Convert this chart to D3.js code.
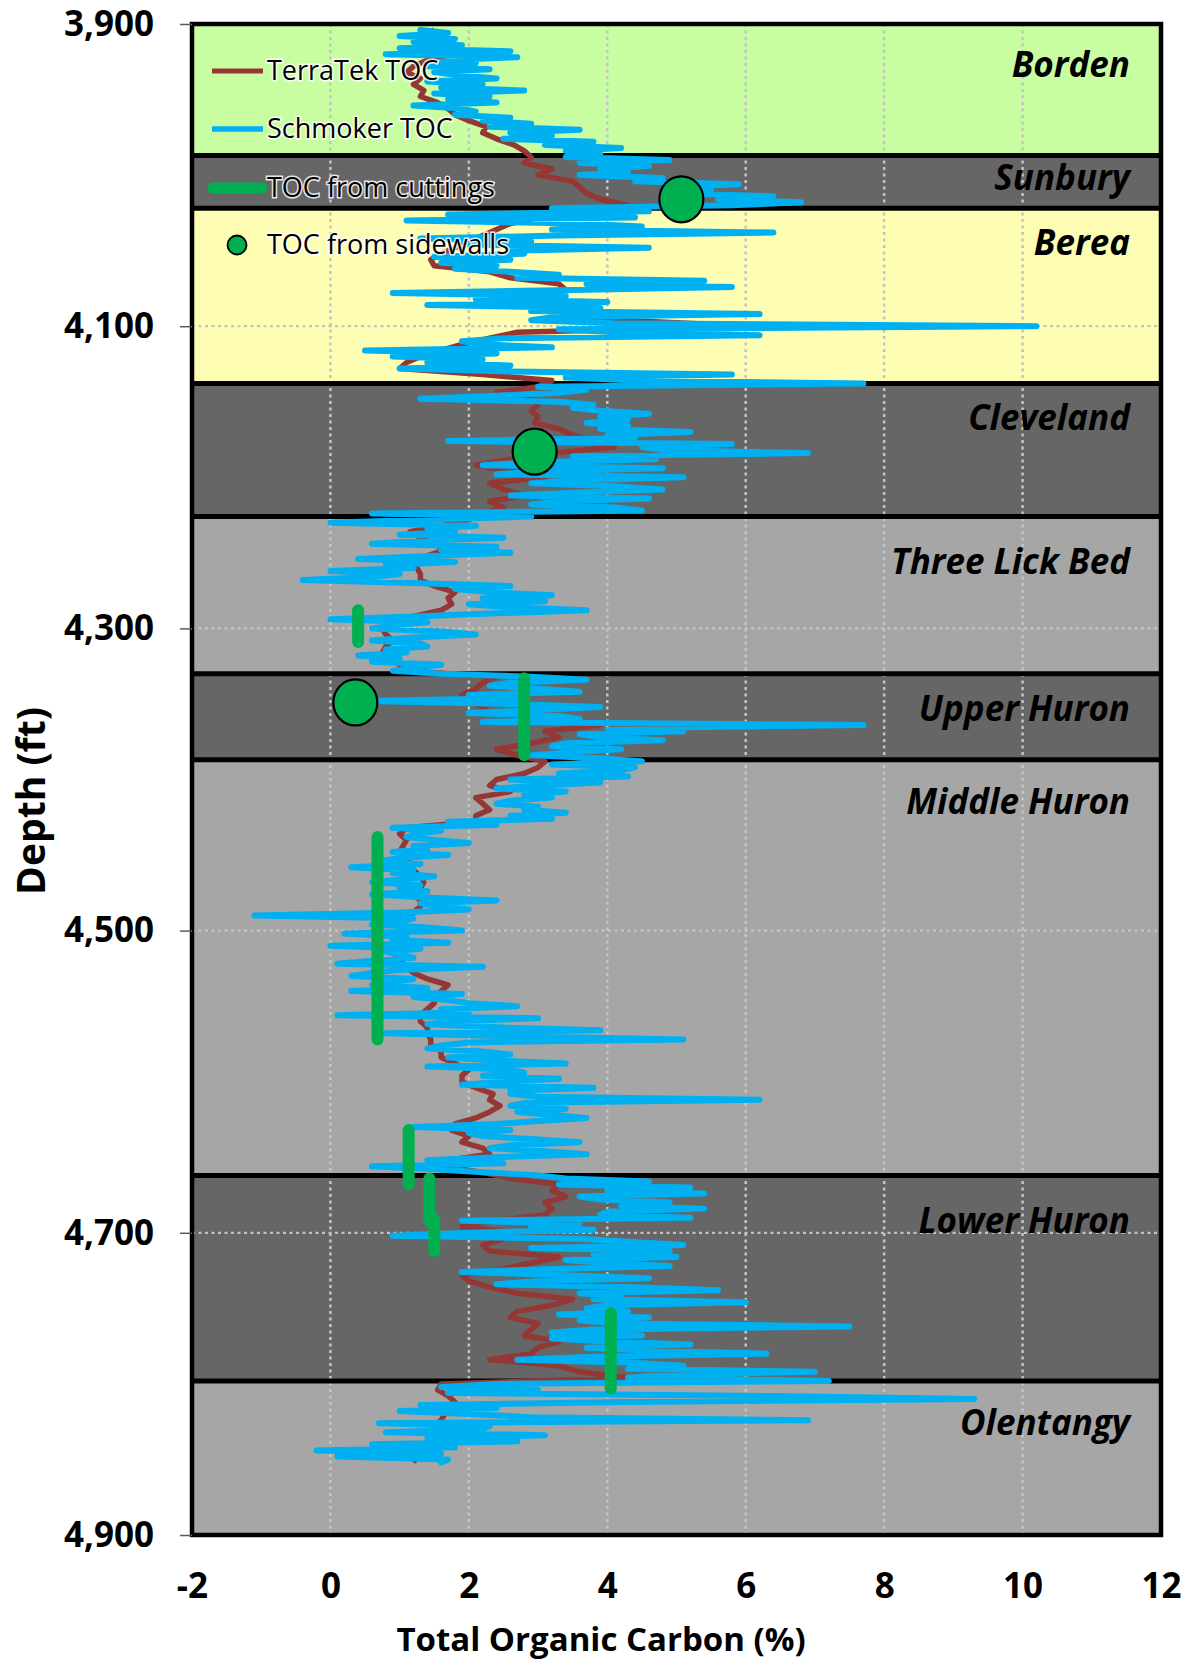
<!DOCTYPE html>
<html>
<head>
<meta charset="utf-8">
<script src="https://cdn.jsdelivr.net/npm/d3@7"></script>
<style>
  body { margin: 0; background: #fff; }
  svg { display: block; }
  text { font-family: "Open Sans", "Liberation Sans", sans-serif; }
</style>
</head>
<body>
<svg id="chart" width="1192" height="1661"></svg>
<script>
// ---- Formations (depth intervals, ft) ----
const formationNames = ["Borden", "Sunbury", "Berea", "Cleveland", "Three Lick Bed",
                        "Upper Huron", "Middle Huron", "Lower Huron", "Olentangy"];
const formationTops  = [3900, 3987, 4022, 4138, 4226, 4330, 4387, 4662, 4798];
const formationBases = [3987, 4022, 4138, 4226, 4330, 4387, 4662, 4798, 4900];
const labelDepths    = [3935, 4010, 4053, 4169, 4264, 4361, 4423, 4700, 4834];

// ---- Schmoker TOC log, 2 ft sampling, one run per formation ----
const schmokerStep = 2;
const schmokerStarts = [3904, 3988, 4022, 4140, 4228, 4332, 4388, 4664, 4800];
const schmokerBorden = [1.3, 1.7, 1.0, 1.8, 1.2, 1.9, 1.0, 2.6, 0.8, 2.7,
  1.6, 2.1, 1.4, 2.3, 1.5, 1.9, 2.4, 1.4, 2.2, 1.6,
  2.8, 1.5, 2.3, 1.7, 2.4, 1.2, 1.9, 2.1, 1.8, 2.6,
  2.2, 2.9, 2.3, 3.6, 2.6, 3.2, 2.5, 3.8, 3.1, 4.2,
  3.4, 3.9];
const schmokerSunbury = [3.4, 4.9, 3.6, 4.6, 3.9, 4.3, 3.6, 4.8, 4.4, 5.9,
  4.9, 5.5, 5.0, 6.4, 5.6, 6.8, 5.8];
const schmokerBerea = [3.2, 4.6, 1.7, 4.4, 1.1, 3.6, 4.5, 3.2, 6.4, 3.3,
  1.3, 2.9, 2.0, 4.6, 2.6, 2.8, 1.5, 2.6, 1.6, 2.4,
  1.8, 2.6, 3.3, 2.7, 5.4, 3.7, 5.8, 3.5, 0.9, 3.4,
  2.1, 4.0, 1.4, 3.9, 2.9, 6.2, 3.2, 2.9, 4.1, 10.2,
  3.3, 4.1, 6.2, 2.5, 1.9, 2.2, 3.2, 0.5, 2.4, 0.9,
  2.2, 1.4, 2.6, 1.0, 2.6, 5.8, 3.4, 4.4, 7.7];
const schmokerCleveland = [3.0, 3.7, 3.3, 2.4, 1.3, 3.3, 3.8, 3.5, 3.9, 4.6,
  3.9, 4.3, 3.7, 4.3, 3.9, 5.2, 4.0, 4.4, 1.7, 5.8,
  4.5, 4.8, 6.9, 3.5, 4.7, 2.9, 2.2, 4.8, 3.0, 2.4,
  5.1, 3.6, 2.9, 4.1, 4.8, 3.6, 2.6, 4.6, 3.3, 2.9,
  4.1, 4.5, 0.6, 2.9];
const schmokerThreeLick = [1.4, 0.0, 2.1, 1.4, 1.8, 1.0, 2.5, 1.3, 0.6, 2.4,
  1.6, 2.6, 1.5, 0.4, 1.8, 0.8, 1.2, 0.0, 1.0, 0.6,
  -0.4, 1.2, 2.6, 1.8, 2.3, 3.2, 2.2, 3.1, 2.0, 2.6,
  3.7, 2.4, 1.3, 0.0, 1.4, 0.9, 0.6, 1.6, 2.1, 1.2,
  0.6, 1.3, 1.4, 0.8, 1.1, 0.4, 1.0, 0.6, 1.6, 1.2,
  0.9, 1.6];
const schmokerUpperHuron = [2.9, 3.7, 2.6, 2.3, 3.0, 3.6, 2.0, 2.8, 0.5, 2.6,
  3.9, 3.0, 2.0, 3.3, 3.6, 2.2, 7.7, 4.0, 5.1, 3.6,
  3.9, 4.8, 3.4, 3.2, 4.2, 3.5, 2.9, 3.9];
const schmokerMiddleHuron = [4.5, 3.2, 4.4, 4.2, 3.3, 4.3, 2.6, 3.9, 3.0, 2.4,
  3.4, 2.8, 3.2, 2.6, 2.4, 3.0, 2.8, 3.4, 2.6, 3.2,
  1.7, 2.4, 0.9, 1.6, 1.2, 1.1, 1.5, 2.0, 1.2, 1.4,
  0.9, 1.7, 1.0, 0.7, 1.3, 0.3, 1.2, 0.9, 1.5, 1.1,
  0.6, 1.3, 1.0, 1.4, 0.6, 1.3, 2.4, 1.3, 1.6, 2.0,
  1.0, -1.1, 1.2, 1.0, 0.6, 1.4, 1.9, 0.2, 1.1, 0.9,
  1.7, 0.0, 1.3, 0.8, 1.0, 1.2, 0.6, 0.1, 2.2, 1.0,
  0.6, 0.3, 1.2, 0.9, 0.6, 1.4, 0.3, 1.9, 1.2, 1.7,
  2.0, 2.7, 1.6, 2.0, 0.1, 3.0, 1.8, 1.4, 2.4, 3.9,
  0.8, 2.6, 5.1, 2.0, 1.6, 1.4, 2.2, 2.6, 1.7, 2.4,
  3.4, 1.4, 2.6, 2.8, 2.2, 3.3, 2.5, 1.9, 3.8, 2.6,
  2.6, 3.0, 6.2, 2.8, 2.6, 3.4, 2.7, 3.2, 3.7, 3.0,
  2.4, 1.2, 2.6, 2.0, 2.2, 2.9, 3.6, 2.6, 2.3, 3.1,
  3.7, 2.4, 1.4, 2.5, 0.6, 1.5, 2.2, 3.0];
const schmokerLowerHuron = [3.4, 4.6, 3.3, 5.2, 4.0, 5.4, 3.6, 3.9, 4.9, 4.2,
  5.4, 4.0, 3.9, 5.2, 1.9, 3.6, 2.9, 3.8, 2.0, 0.9,
  3.6, 4.3, 5.1, 2.9, 4.9, 3.8, 5.0, 3.4, 4.0, 4.9,
  3.2, 1.9, 3.3, 4.6, 3.0, 2.4, 4.4, 5.6, 3.6, 4.2,
  3.8, 6.0, 4.0, 3.7, 4.3, 3.3, 4.6, 3.6, 4.2, 7.5,
  3.8, 3.2, 4.5, 3.2, 4.0, 5.2, 3.7, 4.6, 6.3, 3.8,
  2.7, 4.4, 5.1, 4.3, 7.0, 4.8, 4.3, 7.2];
const schmokerOlentangy = [2.4, 1.6, 3.0, 1.7, 6.4, 9.3, 4.3, 1.3, 2.4, 1.0,
  2.0, 2.9, 6.9, 0.7, 2.3, 2.2, 0.8, 3.1, 1.4, 2.7,
  0.6, 1.8, -0.2, 1.6, 0.1, 1.7, 1.6];
const schmokerRuns = [schmokerBorden, schmokerSunbury, schmokerBerea, schmokerCleveland,
  schmokerThreeLick, schmokerUpperHuron, schmokerMiddleHuron, schmokerLowerHuron, schmokerOlentangy];

// ---- TerraTek TOC log, 4 ft sampling, one run per formation ----
const terratekStep = 4;
const terratekStarts = [3904, 3988, 4024, 4140, 4228, 4332, 4388, 4664, 4800];
const terratekBorden = [1.5, 1.3, 1.4, 1.5, 1.75, 1.4, 1.2, 1.1, 1.3, 1.2,
  1.35, 1.3, 1.55, 1.7, 1.8, 2.0, 2.25, 2.2, 2.4, 2.65, 2.8];
const terratekSunbury = [2.9, 2.8, 3.2, 3.0, 3.5, 3.6, 3.7, 3.9, 4.3];
const terratekBerea = [3.6, 3.0, 2.6, 2.4, 2.2, 2.0, 1.8, 1.6, 1.45, 1.5,
  2.3, 2.6, 3.3, 3.4, 2.9, 3.0, 3.2, 3.4, 4.2, 6.1,
  2.7, 2.3, 1.9, 1.6, 1.3, 1.1, 1.0, 2.2, 3.2];
const terratekCleveland = [3.0, 2.4, 2.9, 3.0, 2.9, 3.0, 2.95, 3.3, 3.5, 3.8,
  4.1, 3.2, 2.6, 2.1, 2.6, 3.1, 2.3, 2.5, 2.8, 2.3, 2.5, 2.2];
const terratekThreeLick = [2.0, 1.6, 1.15, 1.3, 1.5, 1.65, 1.4, 1.2, 1.25, 1.3,
  1.3, 1.5, 1.8, 1.7, 1.75, 1.6, 1.2, 0.9, 0.75, 0.8,
  0.9, 0.8, 0.75, 0.85, 1.0, 1.05];
const terratekUpperHuron = [2.4, 2.2, 2.1, 1.9, 2.0, 2.2, 2.3, 2.9, 3.9, 3.1,
  3.3, 2.9, 2.4, 2.7];
const terratekMiddleHuron = [3.1, 3.0, 2.8, 2.4, 2.3, 2.6, 2.1, 2.2, 2.3, 2.1,
  2.1, 1.1, 1.0, 1.1, 1.05, 1.0, 1.1, 1.15, 1.2, 1.3,
  1.35, 1.3, 1.2, 1.3, 1.3, 1.2, 1.1, 1.0, 1.05, 1.0,
  0.95, 0.9, 0.95, 1.0, 1.1, 1.2, 1.4, 1.7, 1.6, 1.5,
  1.5, 1.4, 1.3, 1.3, 1.4, 1.4, 1.45, 1.45, 1.6, 1.6,
  1.8, 2.0, 1.9, 1.9, 2.1, 2.35, 2.3, 2.45, 2.3, 2.1,
  1.8, 1.75, 2.0, 1.9, 2.2, 2.3, 1.7, 1.6, 2.2];
const terratekLowerHuron = [2.6, 3.3, 3.2, 3.4, 3.1, 3.2, 3.1, 2.4, 1.9, 2.6,
  2.5, 2.2, 2.3, 3.3, 2.9, 2.5, 1.9, 2.0, 2.3, 2.7,
  3.5, 3.2, 2.7, 2.6, 3.0, 2.9, 2.8, 3.3, 3.0, 2.9,
  2.3, 3.3, 3.6, 4.3];
const terratekOlentangy = [1.6, 1.55, 1.7, 1.8, 1.7, 1.65, 1.6, 1.5, 1.5, 1.45,
  1.4, 1.3, 1.25, 1.2];
const terratekRuns = [terratekBorden, terratekSunbury, terratekBerea, terratekCleveland,
  terratekThreeLick, terratekUpperHuron, terratekMiddleHuron, terratekLowerHuron, terratekOlentangy];

// ---- Lab measurements ----
const cuttingsTOC   = [0.4, 2.8, 0.68, 1.13, 1.43, 1.5, 4.05];
const cuttingsTop   = [4288, 4333, 4438, 4632, 4664, 4691, 4753];
const cuttingsBase  = [4309, 4384, 4572, 4668, 4692, 4712, 4803];
const sidewallTOC   = [5.07, 2.95, 0.36];
const sidewallDepth = [4016, 4183, 4349];

// ---- Axes ----
const depthTicks = [3900, 4100, 4300, 4500, 4700, 4900];
const tocTicks   = [-2, 0, 2, 4, 6, 8, 10, 12];
const legendLabels = ["TerraTek TOC", "Schmoker TOC", "TOC from cuttings", "TOC from sidewalls"];

// ---- Styling ----
const fills = {
  "Borden": "#C9FDA2", "Sunbury": "#666666", "Berea": "#FDFDB4",
  "Cleveland": "#666666", "Three Lick Bed": "#A6A6A6", "Upper Huron": "#666666",
  "Middle Huron": "#A6A6A6", "Lower Huron": "#666666", "Olentangy": "#A6A6A6"
};
const BLUE = "#00B0F0", BROWN = "#953735", GREEN = "#00B050", GRID = "#C4C4C4";

const svg = d3.select("#chart");
const x = d3.scaleLinear().domain([-2, 12]).range([192, 1161]);
const y = d3.scaleLinear().domain([3900, 4900]).range([24, 1535]);

function toPoints(starts, runs, step) {
  const pts = [];
  runs.forEach((run, i) => run.forEach((v, j) => pts.push([starts[i] + j * step, v])));
  return pts;
}
const schmoker = toPoints(schmokerStarts, schmokerRuns, schmokerStep);
const terratek = toPoints(terratekStarts, terratekRuns, terratekStep);

// formation fills
const formations = formationNames.map((n, i) => ({ name: n, top: formationTops[i], base: formationBases[i], label: labelDepths[i] }));
svg.append("g").selectAll("rect").data(formations).join("rect")
  .attr("x", x(-2)).attr("width", x(12) - x(-2))
  .attr("y", d => y(d.top)).attr("height", d => y(d.base) - y(d.top))
  .attr("fill", d => fills[d.name]);

// gridlines
const grid = svg.append("g");
grid.selectAll(".vg").data(tocTicks.slice(1, -1)).join("line")
  .attr("x1", d => x(d)).attr("x2", d => x(d))
  .attr("y1", y(3900)).attr("y2", y(4900))
  .attr("stroke", GRID).attr("stroke-width", 2.5).attr("stroke-dasharray", "3,3.5");
grid.selectAll(".hg").data(depthTicks.slice(1, -1)).join("line")
  .attr("x1", x(-2)).attr("x2", x(12))
  .attr("y1", d => y(d)).attr("y2", d => y(d))
  .attr("stroke", GRID).attr("stroke-width", 2.2).attr("stroke-dasharray", "3,3.5");

// formation boundaries and frame
svg.append("g").selectAll("line").data(formationTops.slice(1)).join("line")
  .attr("x1", x(-2)).attr("x2", x(12))
  .attr("y1", d => y(d)).attr("y2", d => y(d))
  .attr("stroke", "#000").attr("stroke-width", 5);
svg.append("rect")
  .attr("x", x(-2)).attr("y", y(3900))
  .attr("width", x(12) - x(-2)).attr("height", y(4900) - y(3900))
  .attr("fill", "none").attr("stroke", "#000").attr("stroke-width", 4.5);

// logs
const line = d3.line().x(d => x(d[1])).y(d => y(d[0]));
svg.append("path").datum(terratek).attr("d", line)
  .attr("fill", "none").attr("stroke", BROWN).attr("stroke-width", 5.5)
  .attr("stroke-linejoin", "round");
svg.append("path").datum(schmoker).attr("d", line)
  .attr("fill", "none").attr("stroke", BLUE).attr("stroke-width", 6)
  .attr("stroke-linejoin", "round").attr("stroke-linecap", "round");

// cuttings intervals
svg.append("g").selectAll("line").data(cuttingsTOC).join("line")
  .attr("x1", d => x(d)).attr("x2", d => x(d))
  .attr("y1", (d, i) => y(cuttingsTop[i])).attr("y2", (d, i) => y(cuttingsBase[i]))
  .attr("stroke", GREEN).attr("stroke-width", 12).attr("stroke-linecap", "round");

// sidewall samples
svg.append("g").selectAll("ellipse").data(sidewallTOC).join("ellipse")
  .attr("cx", d => x(d)).attr("cy", (d, i) => y(sidewallDepth[i]))
  .attr("rx", 22).attr("ry", 23)
  .attr("fill", GREEN).attr("stroke", "#000").attr("stroke-width", 2.2);

// formation labels
svg.append("g").selectAll("text").data(formations).join("text")
  .attr("x", 1130).attr("y", d => y(d.label))
  .attr("text-anchor", "end")
  .attr("font-size", 35).attr("font-weight", "bold").attr("font-style", "italic")
  .attr("fill", "#000")
  .text(d => d.name);

// axes
const yAxis = svg.append("g").attr("transform", `translate(${x(-2)},0)`)
  .call(d3.axisLeft(y).tickValues(depthTicks).tickFormat(d3.format(",")).tickSize(12).tickPadding(26));
yAxis.select(".domain").remove();
yAxis.selectAll(".tick line").attr("stroke", "#595959").attr("stroke-width", 1.5);
yAxis.selectAll(".tick text").attr("font-size", 35).attr("font-weight", "bold")
  .attr("fill", "#000").attr("font-family", "'Open Sans', sans-serif");

const xAxis = svg.append("g").attr("transform", `translate(0,${y(4900)})`)
  .call(d3.axisBottom(x).tickValues(tocTicks).tickFormat(d => String(d)).tickSize(0).tickPadding(38));
xAxis.select(".domain").remove();
xAxis.selectAll(".tick text").attr("font-size", 35).attr("font-weight", "bold")
  .attr("fill", "#000").attr("font-family", "'Open Sans', sans-serif");

svg.append("text")
  .attr("x", 601).attr("y", 1651)
  .attr("text-anchor", "middle").attr("font-size", 33).attr("font-weight", "bold")
  .text("Total Organic Carbon (%)");
svg.append("text")
  .attr("transform", "translate(45,801) rotate(-90)")
  .attr("text-anchor", "middle").attr("font-size", 39).attr("font-weight", "bold")
  .text("Depth (ft)");

// legend
const legend = svg.append("g");
const rowY = [71, 129, 188, 245];
legend.append("line").attr("x1", 212).attr("x2", 263).attr("y1", rowY[0]).attr("y2", rowY[0])
  .attr("stroke", BROWN).attr("stroke-width", 5);
legend.append("line").attr("x1", 212).attr("x2", 263).attr("y1", rowY[1]).attr("y2", rowY[1])
  .attr("stroke", BLUE).attr("stroke-width", 5.5);
legend.append("line").attr("x1", 213).attr("x2", 262).attr("y1", rowY[2]).attr("y2", rowY[2])
  .attr("stroke", GREEN).attr("stroke-width", 11).attr("stroke-linecap", "round");
legend.append("circle").attr("cx", 237).attr("cy", rowY[3]).attr("r", 9.5)
  .attr("fill", GREEN).attr("stroke", "#000").attr("stroke-width", 1.8);
legend.selectAll("text").data(legendLabels).join("text")
  .attr("x", 267).attr("y", (d, i) => rowY[i] + 9)
  .attr("font-size", 27)
  .attr("fill", "#000")
  .attr("stroke", "#fff").attr("stroke-width", 3).attr("stroke-opacity", 0.85)
  .attr("paint-order", "stroke")
  .text(d => d);
</script>
</body>
</html>
